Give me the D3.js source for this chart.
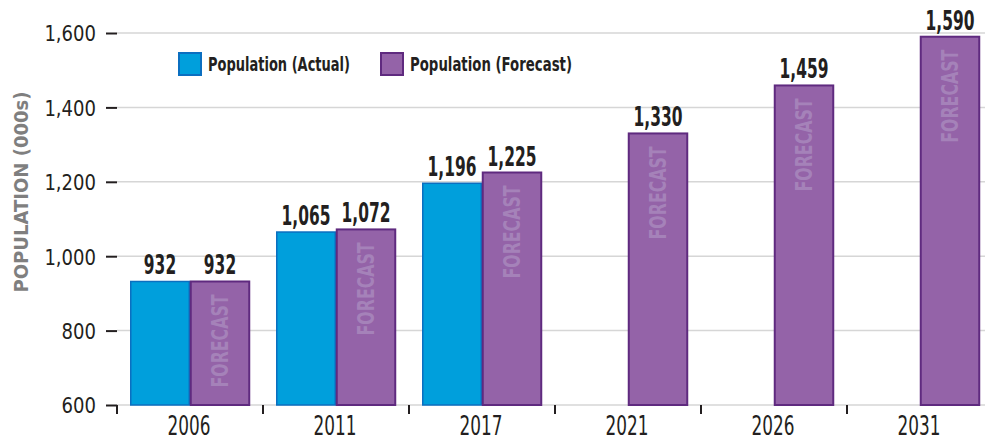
<!DOCTYPE html>
<html><head><meta charset="utf-8">
<script src="https://cdn.jsdelivr.net/npm/d3@7"></script>
<style>
body{margin:0;background:#fff;}
text{font-family:"DejaVu Sans","Liberation Sans",sans-serif;}
</style></head>
<body><svg id="c" width="985" height="440"></svg>
<script>
const years = ["2006","2011","2017","2021","2026","2031"];
const actual = [932, 1065, 1196, null, null, null];
const forecast = [932, 1072, 1225, 1330, 1459, 1590];
const yTicks = [600, 800, 1000, 1200, 1400, 1600];
const seriesNames = ["Population (Actual)", "Population (Forecast)"];
const yTitle = "POPULATION (000s)";
const barText = "FORECAST";

const svg = d3.select("#c");
const x0 = 117, step = 146;
const x = d3.scaleBand().domain(years).range([x0, x0 + step*years.length]).padding(0);
const x1 = d3.scaleBand().domain(["a","f"]).range([13, 133]).padding(0);
const y = d3.scaleLinear().domain([600,1600]).range([405,33]);
const fmt = d3.format(",");
const dark = "#231f20";

// condense text horizontally by a factor (no condensed font available)
function condense(sel, f) {
  sel.each(function(){
    const w = this.getComputedTextLength();
    this.setAttribute("textLength", (w*f).toFixed(1));
    this.setAttribute("lengthAdjust", "spacingAndGlyphs");
  });
  return sel;
}

// gridlines
svg.append("g").selectAll("line").data(yTicks.slice(1)).join("line")
  .attr("x1", x0).attr("x2", 985).attr("y1", d=>y(d)).attr("y2", d=>y(d))
  .attr("stroke", "#d6d6d6").attr("stroke-width", 1.5);
svg.append("line").attr("x1", x0).attr("x2", 985).attr("y1", y(600)).attr("y2", y(600))
  .attr("stroke", "#d6d6d6").attr("stroke-width", 1.5);

// y axis
const yAxis = d3.axisLeft(y).tickValues(yTicks).tickFormat(fmt).tickSize(11).tickPadding(10);
const gy = svg.append("g").attr("transform", `translate(${x0},0)`).call(yAxis);
gy.select(".domain").remove();
gy.selectAll(".tick line").attr("stroke", dark).attr("stroke-width", 2);
condense(gy.selectAll(".tick text").attr("font-size", 22).attr("fill", dark).attr("dy", "0.36em")
  .attr("font-family", "DejaVu Sans"), 0.82);

// x axis ticks at band boundaries
svg.append("g").selectAll("line").data(years).join("line")
  .attr("x1", d=>x(d)).attr("x2", d=>x(d)).attr("y1", y(600)).attr("y2", y(600)+9)
  .attr("stroke", dark).attr("stroke-width", 2);
condense(svg.append("g").selectAll("text").data(years).join("text")
  .attr("x", d=>x(d)+x.bandwidth()/2 - 1).attr("y", 435)
  .attr("text-anchor","middle").attr("font-size", 26).attr("fill", dark).text(d=>d), 0.65);

// bars
const aCol = "#009fdc", aStroke = "#0b6fc0", fCol = "#9463a8", fStroke = "#5f2a7f";
const gA = svg.append("g");
years.forEach((yr,i)=>{
  if (actual[i] != null) {
    gA.append("rect").attr("x", x(yr)+x1("a")+0.75).attr("y", y(actual[i]))
      .attr("width", x1.bandwidth()-1.5).attr("height", y(600)-y(actual[i]))
      .attr("fill", aCol).attr("stroke", aStroke).attr("stroke-width", 1.5);
    condense(gA.append("text").attr("x", x(yr)+x1("a")+x1.bandwidth()/2).attr("y", y(actual[i])-7)
      .attr("text-anchor","middle").attr("font-size", 26).attr("font-weight","bold").attr("fill", dark)
      .text(fmt(actual[i])), 0.595);
  }
  const fx = x(yr)+x1("f");
  gA.append("rect").attr("x", fx+0.75).attr("y", y(forecast[i]))
    .attr("width", x1.bandwidth()-1.5).attr("height", y(600)-y(forecast[i]))
    .attr("fill", fCol).attr("stroke", fStroke).attr("stroke-width", 2);
  const ft = gA.append("text")
    .attr("transform", `translate(${fx+x1.bandwidth()/2+8},${y(forecast[i])+13}) rotate(-90)`)
    .attr("text-anchor","end").attr("font-size", 23).attr("font-weight","bold").attr("fill", "#a582b9")
    .text(barText);
  const fw = ft.node().getComputedTextLength();
  condense(ft, 93/fw);
  condense(gA.append("text").attr("x", fx+x1.bandwidth()/2).attr("y", y(forecast[i])-7)
    .attr("text-anchor","middle").attr("font-size", 26).attr("font-weight","bold").attr("fill", dark)
    .text(fmt(forecast[i])), 0.595);
});

// legend
const leg = [{n:seriesNames[0], c:aCol, s:aStroke, x:178, w:142},{n:seriesNames[1], c:fCol, s:fStroke, x:380, w:162}];
const gl = svg.append("g");
leg.forEach(l=>{
  gl.append("rect").attr("x", l.x+1).attr("y", 53).attr("width", 22).attr("height", 22)
    .attr("fill", l.c).attr("stroke", l.s).attr("stroke-width", 2);
  const t = gl.append("text").attr("x", l.x+30).attr("y", 71).attr("font-size", 19).attr("font-weight","bold")
    .attr("fill", dark).text(l.n);
  condense(t, l.w / t.node().getComputedTextLength());
});

// y title
const yt = svg.append("text").attr("transform", "translate(28,192) rotate(-90)")
  .attr("text-anchor","middle").attr("font-size", 20).attr("font-weight","bold").attr("fill", "#7f7f7f")
  .text(yTitle);
condense(yt, 201 / yt.node().getComputedTextLength());
</script></body></html>
